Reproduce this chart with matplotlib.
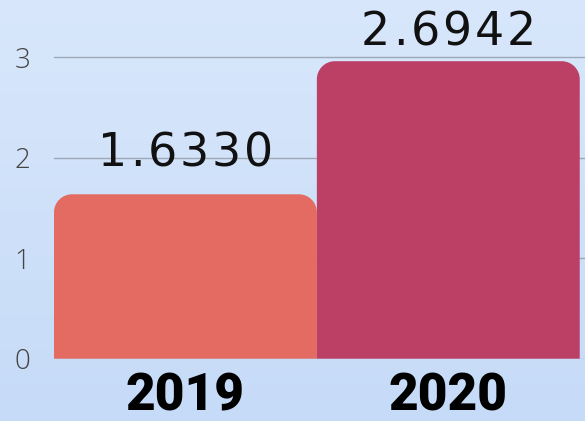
import numpy as np
import matplotlib
matplotlib.use('Agg')
import matplotlib.pyplot as plt
from matplotlib.path import Path
from matplotlib.patches import PathPatch
from matplotlib.colors import LinearSegmentedColormap
from matplotlib.font_manager import FontProperties

# values
years = ['2019', '2020']
heights = [1.636, 2.96]
valueLabels = ['1.6330', '2.6942']
barColors = ['#e36b62', '#bc3f66']

yTicks = [0, 1, 2, 3]


def roundTopBar(x0, w, h, rx, ry):
    '''path for a bar with rounded top corners only'''
    k = 0.5523
    x1 = x0 + w
    verts = [
        (x0, 0), (x1, 0), (x1, h - ry),
        (x1, h - ry + k * ry), (x1 - rx + k * rx, h), (x1 - rx, h),
        (x0 + rx, h),
        (x0 + rx - k * rx, h), (x0, h - ry + k * ry), (x0, h - ry),
        (x0, 0),
    ]
    codes = [Path.MOVETO, Path.LINETO, Path.LINETO,
             Path.CURVE4, Path.CURVE4, Path.CURVE4,
             Path.LINETO,
             Path.CURVE4, Path.CURVE4, Path.CURVE4,
             Path.CLOSEPOLY]
    return Path(verts, codes)


def spacedText(ax, x, y, s, fp, track, **kw):
    '''draw text char by char with extra letter spacing (in px)'''
    r = ax.figure.canvas.get_renderer()
    dpi = ax.figure.dpi
    widths = [r.get_text_width_height_descent(c, fp, ismath=False)[0] for c in s]
    total = sum(widths) + track * (len(s) - 1)
    off = -total / 2
    for c, w in zip(s, widths):
        ax.annotate(c, xy=(x, y), xytext=(off * 72 / dpi, 0),
                    textcoords='offset points', ha='left', va='baseline',
                    fontproperties=fp, annotation_clip=False, **kw)
        off += w + track


fig = plt.figure(figsize=(5.85, 4.21), dpi=100)

# gradient background
bg = fig.add_axes([0, 0, 1, 1], zorder=-1)
cmap = LinearSegmentedColormap.from_list('bg', ['#d8e7fb', '#c6dbf8'])
bg.imshow(np.linspace(0, 1, 256).reshape(-1, 1), aspect='auto', cmap=cmap,
          extent=[0, 1, 0, 1])
bg.set_axis_off()

ax = fig.add_axes([54 / 585, 62.3 / 421, 531 / 585, 358.7 / 421])
ax.set_facecolor('none')
ax.set_xlim(-0.5, 1.52)
ax.set_ylim(0, 3.569)

ax.set_yticks(yTicks)
ax.yaxis.grid(True, color='#9ea9b8', lw=1)
ax.set_axisbelow(True)

x = np.arange(len(years))
bars = ax.bar(x, heights, width=1.0, color=barColors, zorder=2)

# swap plain rectangles for rounded-top ones, radius ~18 px
pxPerX = ax.transData.transform((1, 0))[0] - ax.transData.transform((0, 0))[0]
pxPerY = ax.transData.transform((0, 1))[1] - ax.transData.transform((0, 0))[1]
rx, ry = 18 / pxPerX, 18 / pxPerY
for b, c in zip(bars, barColors):
    b.set_visible(False)
    p = roundTopBar(b.get_x(), b.get_width(), b.get_height(), rx, ry)
    ax.add_patch(PathPatch(p, facecolor=c, edgecolor='none', zorder=2))

valFont = FontProperties(family='DejaVu Sans', size=33)
labelPad = [0.28, 0.16]
for xi, h, lab, pad in zip(x, heights, valueLabels, labelPad):
    spacedText(ax, xi, h + pad, lab, valFont, 3, color='#111111', zorder=3)

ax.set_xticks(x)
ax.set_xticklabels(years, fontsize=37, family='Roboto', fontweight='black',
                   color='black')
ax.set_yticklabels([str(t) for t in yTicks], fontsize=20, family='Open Sans',
                   fontweight='light', color='#444444')
ax.tick_params(axis='x', length=0, pad=9)
ax.tick_params(axis='y', length=0, pad=17)
for s in ax.spines.values():
    s.set_visible(False)

plt.savefig('out.png', dpi=100)
